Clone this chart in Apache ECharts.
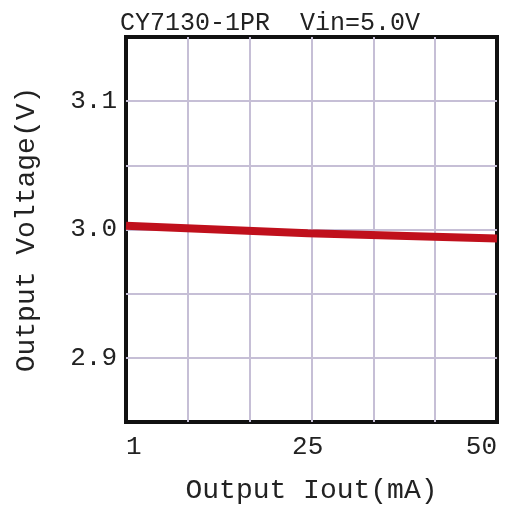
<!DOCTYPE html>
<html><head><meta charset="utf-8">
<script src="https://cdn.jsdelivr.net/npm/echarts@6/dist/echarts.min.js"></script>
<style>html,body{margin:0;padding:0;background:#fff}#c{width:507px;height:513px}</style>
</head><body><div id="c"></div>
<script>
const titleText = 'CY7130-1PR  Vin=5.0V';
const xName = 'Output Iout(mA)';
const yName = 'Output Voltage(V)';
const xTickLabels = [1, 25, 50];
const yTickLabels = [2.9, 3.0, 3.1];
const iout = [1, 25, 50];
const vout = [3.003, 2.997, 2.993];

const font = 'Liberation Mono';
const chart = echarts.init(document.getElementById('c'));
chart.setOption({
  animation: false,
  backgroundColor: '#fff',
  title: {text: titleText, left: 265, top: 6, textAlign: 'center',
    textStyle: {fontFamily: font, fontSize: 25, fontWeight: 'normal', color: '#222'}},
  grid: {left: 126, right: 10, top: 37, bottom: 91, outerBoundsMode: 'none', containLabel: false,
    show: true, borderColor: '#111', borderWidth: 4, backgroundColor: 'transparent'},
  xAxis: [{
    type: 'value', min: 1, max: 50,
    name: xName, nameLocation: 'middle', nameGap: 55,
    nameTextStyle: {fontFamily: font, fontSize: 28, color: '#222'},
    axisLine: {show: false}, axisTick: {show: false}, splitLine: {show: false},
    axisLabel: {customValues: xTickLabels, fontFamily: font, fontSize: 26, color: '#222', margin: 12,
      alignMinLabel: 'left', alignMaxLabel: 'right'}
  }, {
    type: 'value', min: 0, max: 6, interval: 1, position: 'top',
    axisLine: {show: false}, axisTick: {show: false}, axisLabel: {show: false},
    splitLine: {show: true, showMinLine: false, showMaxLine: false, lineStyle: {color: '#c6bfd6', width: 2}}
  }],
  yAxis: {
    type: 'value', min: 2.85, max: 3.15, interval: 0.05,
    name: yName, nameLocation: 'middle', nameGap: 85, nameRotate: 90,
    nameTextStyle: {fontFamily: font, fontSize: 28, color: '#222'},
    axisLine: {show: false}, axisTick: {show: false},
    splitLine: {show: true, showMinLine: false, showMaxLine: false, lineStyle: {color: '#c6bfd6', width: 2}},
    axisLabel: {fontFamily: font, fontSize: 26, color: '#222', margin: 9,
      formatter: v => {
        const r = Math.round(v * 100) / 100;
        return yTickLabels.some(t => Math.abs(t - r) < 1e-6) ? r.toFixed(1) : '';
      }}
  },
  series: [{
    type: 'line', xAxisIndex: 0, data: iout.map((x, i) => [x, vout[i]]),
    showSymbol: false, lineStyle: {color: '#c0101c', width: 8}, z: 3
  }]
});
</script></body></html>
